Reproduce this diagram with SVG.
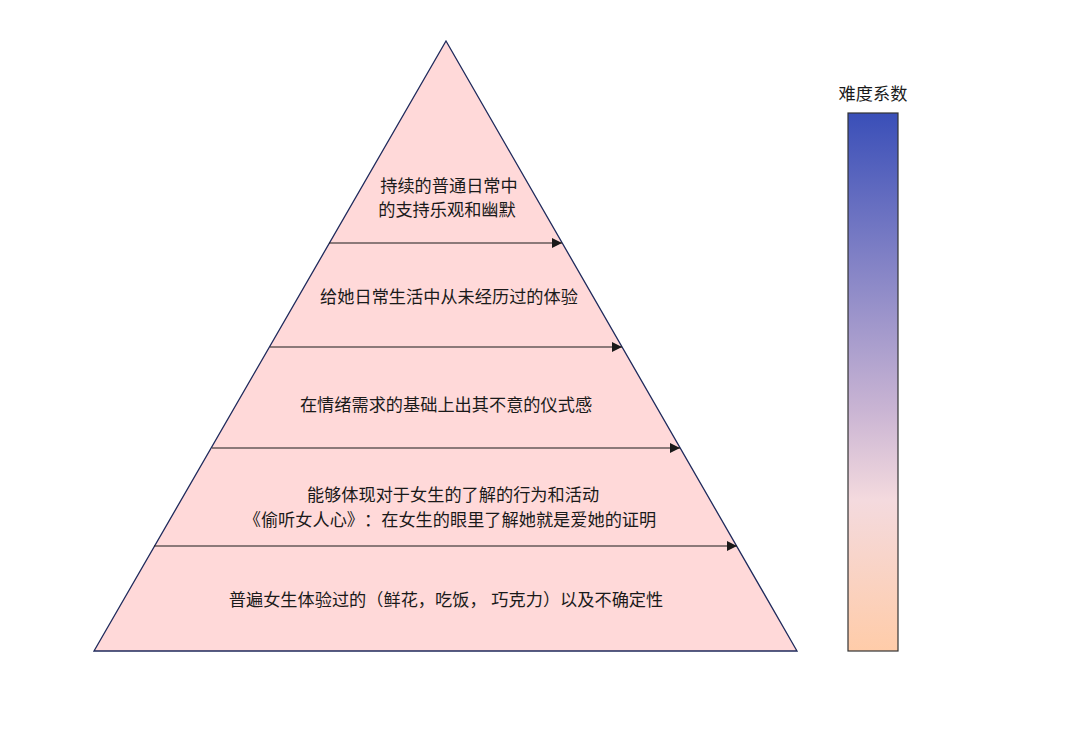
<svg xmlns="http://www.w3.org/2000/svg" width="1080" height="749" viewBox="0 0 1080 749">
<style>
.lbl{font-family:"Liberation Sans","Noto Sans CJK SC",sans-serif;font-size:17.2px;fill:#1a1a1a;text-anchor:middle;text-spacing-trim:space-all;font-feature-settings:"halt" 0,"chws" 0}
.conn{stroke:#1a1a1a;stroke-width:1.2;fill:none}
</style>
<defs>
<marker id="ah" viewBox="0 0 10 10" refX="10" refY="5" markerWidth="10" markerHeight="10" markerUnits="userSpaceOnUse" orient="auto">
<path d="M0,0 L10,5 L0,10 z" fill="#1a1a1a"/>
</marker>
<linearGradient id="g" x1="0" y1="0" x2="0" y2="1">
<stop offset="0" stop-color="#3a4fb8"/>
<stop offset="0.55" stop-color="#c9b4d3"/>
<stop offset="0.72" stop-color="#f4dade"/>
<stop offset="1" stop-color="#ffcca9"/>
</linearGradient>
</defs>
<rect width="1080" height="749" fill="#ffffff"/>
<g id="pyramid">
<polygon points="446,41 797,651 94,651" fill="#ffd9d9" stroke="#1f2a5c" stroke-width="1.3"/>
</g>
<g id="connectors">
<line class="conn" x1="329" y1="243" x2="562" y2="243" marker-end="url(#ah)"/>
<line class="conn" x1="270" y1="347" x2="622" y2="347" marker-end="url(#ah)"/>
<line class="conn" x1="212" y1="448" x2="680" y2="448" marker-end="url(#ah)"/>
<line class="conn" x1="154" y1="546" x2="737" y2="546" marker-end="url(#ah)"/>
</g>
<g id="level5">
<text class="lbl" x="449" y="192">持续的普通日常中</text>
<text class="lbl" x="447" y="216">的支持乐观和幽默</text>
</g>
<g id="level4">
<text class="lbl" x="449" y="303">给她日常生活中从未经历过的体验</text>
</g>
<g id="level3">
<text class="lbl" x="446" y="411">在情绪需求的基础上出其不意的仪式感</text>
</g>
<g id="level2">
<text class="lbl" x="453" y="501">能够体现对于女生的了解的行为和活动</text>
<text class="lbl" x="450" y="526">《偷听女人心》：在女生的眼里了解她就是爱她的证明</text>
</g>
<g id="level1">
<text class="lbl" x="446" y="606">普遍女生体验过的（鲜花，吃饭， 巧克力）以及不确定性</text>
</g>
<g id="scale">
<text class="lbl" x="873" y="100">难度系数</text>
<rect x="848" y="113" width="50" height="538" fill="url(#g)" stroke="#333333" stroke-width="1.2"/>
</g>
</svg>
